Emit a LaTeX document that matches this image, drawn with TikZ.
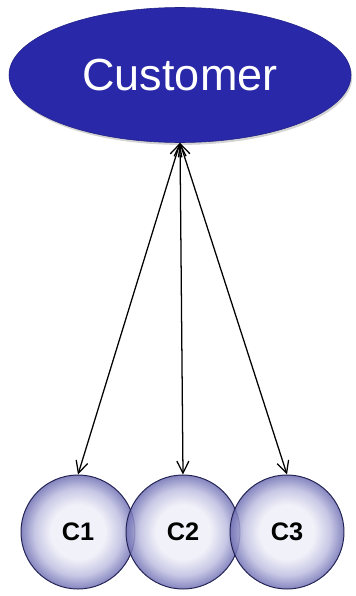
\documentclass[tikz,border=0pt]{standalone}
\usepackage{fontspec}
\setmainfont{Liberation Sans}
\usepackage{tikz}
\usetikzlibrary{shapes.geometric,arrows.meta,shadows}
\usepackage{xcolor}
\definecolor{custblue}{RGB}{40,40,168}
\definecolor{ballrim}{RGB}{112,112,180}
\definecolor{ballmid}{RGB}{190,190,225}
\definecolor{ballcore}{RGB}{238,238,248}
\definecolor{ballline}{RGB}{35,35,85}
\pgfdeclareradialshading{bubble}{\pgfpoint{0bp}{0bp}}{%
  color(0bp)=(ballcore); color(12bp)=(ballcore); color(19bp)=(ballmid);
  color(25bp)=(ballrim); color(50bp)=(ballrim)}

\begin{document}
\begin{tikzpicture}[
    every node/.style={inner sep=0pt},
    party/.style={ellipse, fill=custblue, draw=custblue!80!black, thin,
        minimum width=8.55cm, minimum height=3.375cm,
        drop shadow={opacity=0.35, shadow xshift=0.3mm, shadow yshift=-0.6mm},
        text=white, font=\fontsize{32}{36}\selectfont},
    ball/.style={circle, draw=ballline, line width=0.7pt, minimum size=2.85cm,
        shading=bubble, fill opacity=0.85, text opacity=1,
        font=\bfseries\fontsize{18}{21}\selectfont},
    link/.style={{Straight Barb[length=3mm, width=3mm]}-{Straight Barb[length=3mm, width=3mm]}, line width=0.9pt}
]
\useasboundingbox (0,0) rectangle (8.9,-14.9);

% Customer
\node[party] (cust) at (4.5,-1.875) {Customer};

% Components
\node[ball] (c1) at (1.95,-13.3) {C1};
\node[ball] (c2) at (4.575,-13.3) {C2};
\node[ball] (c3) at (7.175,-13.3) {C3};

% Links
\foreach \c in {c1,c2,c3}
    \draw[link] (cust.south) -- (\c.north);

\end{tikzpicture}
\end{document}
